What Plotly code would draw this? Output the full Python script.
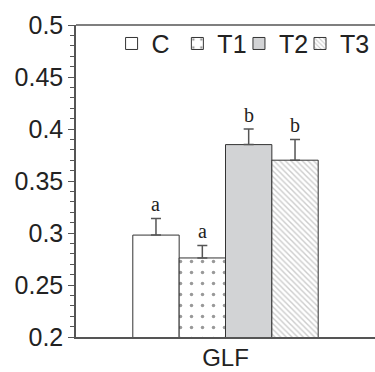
import plotly.graph_objects as go

categories = ["GLF"]
series = ["C", "T1", "T2", "T3"]
values = [0.298, 0.276, 0.385, 0.370]
errors = [0.016, 0.012, 0.015, 0.020]
letters = ["a", "a", "b", "b"]

fills = ["#ffffff", "#ffffff", "#d2d3d5", "#ffffff"]
patterns = [None, dict(shape=".", size=11, solidity=0.08, fgcolor="#333333", bgcolor="#ffffff"),
            None, dict(shape="\\", size=4, solidity=0.35, fgcolor="#999999", bgcolor="#ffffff")]
legend_x = [0.119, 0.339, 0.545, 1.0]
legend_anchor = ["left", "left", "left", "right"]
legend_ids = ["legend", "legend2", "legend3", "legend4"]

bargap = 0.38
fig = go.Figure()
for i, s in enumerate(series):
    kw = {}
    if patterns[i]:
        kw["pattern"] = patterns[i]
    fig.add_trace(go.Bar(
        name=s, x=categories, y=[values[i]], legend=legend_ids[i],
        marker=dict(color=fills[i], line=dict(color="#333333", width=1), **kw),
        error_y=dict(type="data", array=[errors[i]], arrayminus=[0], symmetric=False,
                     color="#555555", thickness=1.5, width=5),
    ))

n = len(series)
w = (1 - bargap) / n
for i in range(n):
    xc = -(1 - bargap) / 2 + w * (i + 0.5)
    fig.add_annotation(x=xc, y=values[i] + errors[i], xref="x", yref="y",
                       text=letters[i], showarrow=False, yanchor="bottom", yshift=1,
                       font=dict(family="Liberation Serif", size=20, color="#222222"))

legend_common = dict(orientation="h", y=0.94, yanchor="middle",
                     font=dict(size=25), bgcolor="rgba(0,0,0,0)", itemwidth=30)
fig.update_layout(
    width=375, height=372,
    margin=dict(l=76, r=0, t=25, b=35),
    paper_bgcolor="white", plot_bgcolor="white",
    barmode="group", bargap=bargap, bargroupgap=0,
    font=dict(family="Liberation Sans", size=25, color="#222222"),
    showlegend=True,
    **{lid: dict(x=lx, xanchor=la, **legend_common)
       for lid, lx, la in zip(legend_ids, legend_x, legend_anchor)},
)
fig.update_xaxes(showline=True, linecolor="#555555", linewidth=1.5, mirror=False,
                 ticks="", tickfont=dict(size=24), range=[-0.5, 0.5], fixedrange=True,
                 automargin=False, ticklabelstandoff=-2)
fig.update_yaxes(range=[0.2, 0.5], dtick=0.05, showgrid=False,
                 showline=True, linecolor="#555555", linewidth=1.5,
                 ticks="outside", ticklen=6, tickcolor="#555555", tickwidth=1.2,
                 tickfont=dict(size=25), automargin=False,
                 minor=dict(ticks="outside", ticklen=4, dtick=0.01, tickcolor="#555555", tickwidth=1),
                 zeroline=False)
# top border line
fig.add_shape(type="line", xref="paper", yref="paper", x0=0, x1=1, y0=1, y1=1,
              line=dict(color="#555555", width=1.5))
fig.write_html("out.html")
